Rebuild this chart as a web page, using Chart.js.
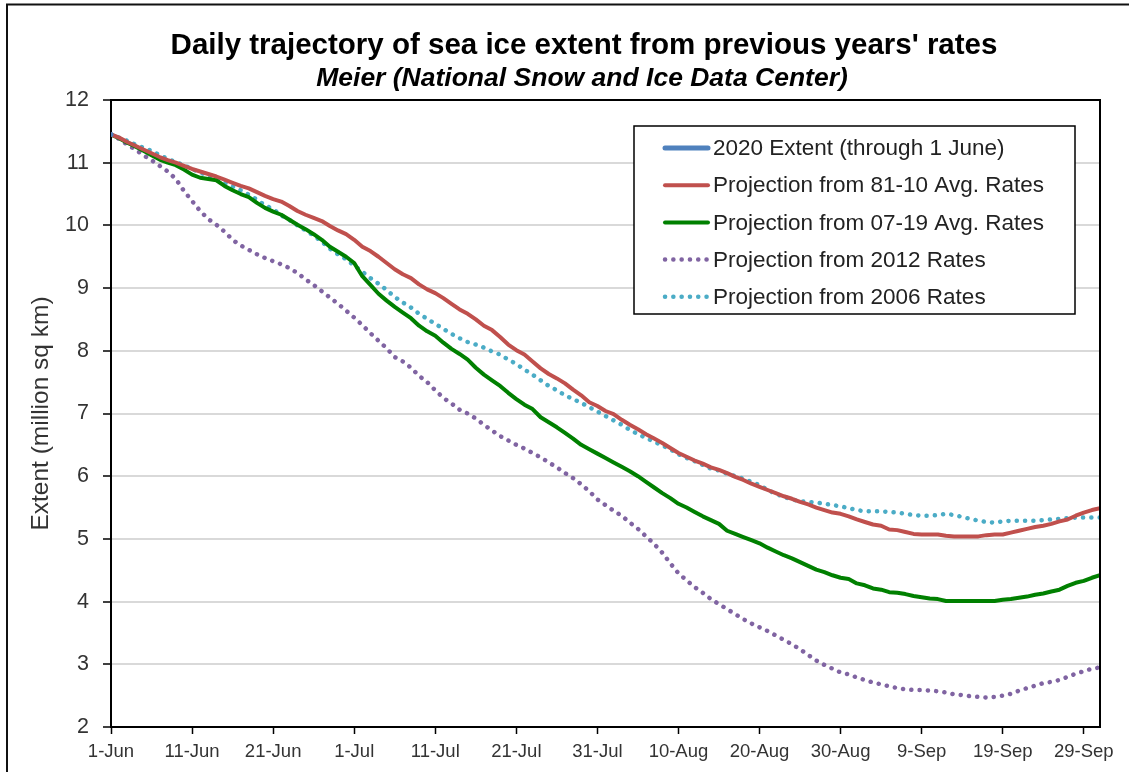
<!DOCTYPE html>
<html>
<head>
<meta charset="utf-8">
<script src="https://cdn.jsdelivr.net/npm/chart.js@4.4.1/dist/chart.umd.min.js"></script>
<style>
  html, body { margin: 0; padding: 0; background: #ffffff; }
  #wrap { position: relative; width: 1129px; height: 772px; }
</style>
</head>
<body>
<div id="wrap"><canvas id="c"></canvas></div>
<script>
// ---- DATA ----
const chartTitle = "Daily trajectory of sea ice extent from previous years' rates";
const chartSubtitle = "Meier (National Snow and Ice Data Center)";
const yAxisTitle = "Extent (million sq km)";

// day index since 1 June (1-Jun = 0 ... 1-Oct = 122)
const days = Array.from({length: 123}, (_, i) => i);
const tickDays = [0, 10, 20, 30, 40, 50, 60, 70, 80, 90, 100, 110, 120];
const tickLabels = ["1-Jun","11-Jun","21-Jun","1-Jul","11-Jul","21-Jul","31-Jul","10-Aug","20-Aug","30-Aug","9-Sep","19-Sep","29-Sep"];

const extent2020 = [11.45];

const proj8110 = [
 11.45,11.40,11.33,11.27,11.21,11.15,11.09,11.04,11.00,10.95,
 10.90,10.86,10.82,10.78,10.73,10.68,10.63,10.59,10.53,10.47,
 10.42,10.38,10.31,10.23,10.17,10.12,10.07,9.99,9.92,9.86,
 9.77,9.66,9.59,9.50,9.40,9.30,9.22,9.16,9.06,8.98,
 8.92,8.84,8.75,8.66,8.59,8.50,8.40,8.33,8.22,8.10,
 8.01,7.94,7.83,7.72,7.63,7.56,7.48,7.38,7.29,7.18,
 7.12,7.04,6.99,6.90,6.82,6.75,6.67,6.60,6.53,6.45,
 6.37,6.31,6.25,6.20,6.14,6.10,6.05,5.99,5.94,5.88,
 5.83,5.78,5.73,5.68,5.64,5.59,5.55,5.50,5.46,5.42,
 5.40,5.36,5.31,5.27,5.23,5.21,5.15,5.14,5.11,5.08,
 5.07,5.07,5.07,5.05,5.04,5.04,5.04,5.04,5.06,5.07,
 5.07,5.10,5.13,5.16,5.19,5.21,5.24,5.28,5.31,5.37,
 5.42,5.46,5.49
];

const proj0719 = [
 11.45,11.39,11.32,11.26,11.19,11.12,11.05,11.00,10.96,10.89,
 10.81,10.76,10.74,10.72,10.63,10.56,10.50,10.45,10.36,10.28,
 10.22,10.17,10.09,10.01,9.94,9.86,9.77,9.66,9.58,9.50,
 9.40,9.19,9.05,8.91,8.80,8.70,8.61,8.52,8.40,8.31,
 8.24,8.13,8.03,7.95,7.86,7.73,7.62,7.53,7.44,7.33,
 7.23,7.14,7.07,6.94,6.86,6.78,6.69,6.60,6.50,6.43,
 6.36,6.29,6.22,6.15,6.08,6.00,5.91,5.82,5.73,5.65,
 5.56,5.50,5.43,5.36,5.30,5.24,5.13,5.08,5.03,4.98,
 4.93,4.86,4.80,4.74,4.69,4.63,4.57,4.51,4.47,4.42,
 4.38,4.36,4.29,4.26,4.21,4.19,4.15,4.14,4.12,4.09,
 4.07,4.05,4.04,4.01,4.01,4.01,4.01,4.01,4.01,4.01,
 4.03,4.04,4.06,4.08,4.11,4.13,4.16,4.19,4.25,4.30,
 4.33,4.38,4.42
];

const proj2012 = [
 11.45,11.38,11.29,11.21,11.12,11.04,10.95,10.86,10.74,10.55,
 10.39,10.23,10.10,10.01,9.90,9.77,9.68,9.61,9.54,9.48,
 9.43,9.38,9.32,9.24,9.14,9.05,8.95,8.85,8.75,8.64,
 8.53,8.41,8.28,8.16,8.04,7.90,7.83,7.73,7.60,7.50,
 7.37,7.25,7.16,7.06,7.00,6.92,6.82,6.73,6.64,6.57,
 6.50,6.44,6.37,6.30,6.22,6.14,6.05,5.97,5.87,5.76,
 5.63,5.54,5.45,5.37,5.26,5.16,5.04,4.92,4.78,4.61,
 4.45,4.34,4.23,4.14,4.04,3.96,3.88,3.80,3.72,3.65,
 3.59,3.53,3.46,3.39,3.32,3.24,3.15,3.06,2.99,2.93,
 2.87,2.84,2.79,2.75,2.71,2.68,2.65,2.62,2.60,2.59,
 2.59,2.58,2.57,2.55,2.52,2.51,2.49,2.48,2.47,2.48,
 2.50,2.53,2.58,2.62,2.66,2.70,2.72,2.75,2.80,2.85,
 2.89,2.93,2.95
];

const proj2006 = [
 11.45,11.40,11.35,11.29,11.24,11.19,11.12,11.06,11.01,10.96,
 10.90,10.84,10.80,10.74,10.68,10.62,10.56,10.49,10.41,10.32,
 10.26,10.16,10.09,10.00,9.92,9.84,9.74,9.63,9.54,9.46,
 9.36,9.26,9.16,9.07,8.97,8.86,8.77,8.69,8.59,8.51,
 8.43,8.35,8.27,8.20,8.14,8.10,8.05,7.99,7.94,7.86,
 7.79,7.70,7.62,7.53,7.44,7.37,7.29,7.23,7.17,7.10,
 7.03,6.96,6.89,6.82,6.74,6.67,6.61,6.55,6.49,6.43,
 6.35,6.29,6.24,6.18,6.12,6.09,6.04,6.00,5.96,5.91,
 5.86,5.78,5.72,5.67,5.63,5.60,5.59,5.58,5.56,5.54,
 5.52,5.49,5.46,5.44,5.44,5.44,5.43,5.42,5.40,5.38,
 5.37,5.37,5.38,5.40,5.38,5.35,5.32,5.29,5.27,5.26,
 5.28,5.29,5.29,5.29,5.29,5.30,5.31,5.32,5.33,5.34,
 5.34,5.34,5.34
];

const seriesNames = [
  "2020 Extent (through 1 June)",
  "Projection from 81-10 Avg. Rates",
  "Projection from 07-19 Avg. Rates",
  "Projection from 2012 Rates",
  "Projection from 2006 Rates"
];

// ---- CHART ----
const toXY = arr => arr.map((v, i) => ({x: days[i], y: v}));
const FONT = "'Liberation Sans', Arial, Helvetica, sans-serif";

const dotDash = [0.1, 8.2];

const datasets = [
  { label: seriesNames[0], data: toXY(extent2020), borderColor: '#4F81BD', borderWidth: 5, borderCapStyle: 'round' },
  { label: seriesNames[1], data: toXY(proj8110), borderColor: '#C0504D', borderWidth: 4 },
  { label: seriesNames[2], data: toXY(proj0719), borderColor: '#008000', borderWidth: 4 },
  { label: seriesNames[3], data: toXY(proj2012), borderColor: '#8064A2', borderWidth: 4.5, borderDash: dotDash, borderCapStyle: 'round' },
  { label: seriesNames[4], data: toXY(proj2006), borderColor: '#4BACC6', borderWidth: 4.5, borderDash: dotDash, borderCapStyle: 'round' }
];
datasets.forEach(d => { d.pointRadius = 0; d.pointHoverRadius = 0; d.tension = 0; d.fill = false; d.borderJoinStyle = 'round'; });

const decor = {
  id: 'decor',
  beforeDraw(chart) {
    const ctx = chart.ctx;
    ctx.save();
    ctx.fillStyle = '#fff';
    ctx.fillRect(0, 0, chart.width, chart.height);
    ctx.restore();
  },
  afterDraw(chart) {
    const ctx = chart.ctx;
    const a = chart.chartArea;
    ctx.save();
    // outer frame
    ctx.strokeStyle = '#111';
    ctx.lineWidth = 2;
    ctx.strokeRect(7, 4.5, 1200, 900);
    // plot frame (top and right)
    ctx.lineWidth = 2;
    ctx.strokeStyle = '#000';
    ctx.beginPath();
    ctx.moveTo(a.left, a.top);
    ctx.lineTo(a.right, a.top);
    ctx.lineTo(a.right, a.bottom);
    ctx.stroke();
    // titles
    ctx.fillStyle = '#000';
    ctx.textAlign = 'center';
    ctx.textBaseline = 'middle';
    ctx.font = "bold 29.5px " + FONT;
    ctx.fillText(chartTitle, 584, 46);
    ctx.font = "italic bold 26.5px " + FONT;
    ctx.fillText(chartSubtitle, 582, 79);
    // legend
    const bx = 634, by = 126, bw = 441, bh = 188;
    ctx.fillStyle = '#fff';
    ctx.fillRect(bx, by, bw, bh);
    ctx.strokeStyle = '#000';
    ctx.lineWidth = 1.5;
    ctx.strokeRect(bx, by, bw, bh);
    ctx.font = "22.5px " + FONT;
    ctx.textAlign = 'left';
    chart.data.datasets.forEach((ds, i) => {
      const y = 148 + i * 37.2;
      ctx.save();
      ctx.strokeStyle = ds.borderColor;
      ctx.lineWidth = ds.borderWidth;
      ctx.lineCap = 'round';
      ctx.setLineDash(ds.borderDash || []);
      ctx.beginPath();
      ctx.moveTo(665, y);
      ctx.lineTo(708, y);
      ctx.stroke();
      ctx.restore();
      ctx.fillStyle = '#222';
      ctx.fillText(ds.label, 713, y + 1);
    });
    ctx.restore();
  }
};

new Chart(document.getElementById('c'), {
  type: 'line',
  data: { datasets },
  plugins: [decor],
  options: {
    responsive: true,
    maintainAspectRatio: false,
    animation: false,
    events: [],
    layout: { padding: { top: 100, right: 29, bottom: 5, left: 0 } },
    plugins: { legend: { display: false }, tooltip: { enabled: false }, title: { display: false } },
    scales: {
      x: {
        type: 'linear',
        min: 0,
        max: 122,
        afterBuildTicks: s => { s.ticks = tickDays.map(v => ({ value: v })); },
        afterFit: s => { s.height = 40; },
        ticks: {
          autoSkip: false,
          maxRotation: 0,
          padding: 7,
          color: '#333',
          font: { family: FONT, size: 18.5 },
          callback: (v, i) => tickLabels[i]
        },
        grid: { drawOnChartArea: false, drawTicks: true, tickLength: 7, tickColor: '#000', tickWidth: 1.5 },
        border: { display: true, color: '#000', width: 2 }
      },
      y: {
        min: 2,
        max: 12,
        afterFit: s => { s.width = 111; },
        ticks: {
          stepSize: 1,
          padding: 14,
          color: '#333',
          font: { family: FONT, size: 21.5 }
        },
        grid: { color: '#d9d9d9', lineWidth: 2, drawTicks: true, tickLength: 8, tickColor: '#000', tickWidth: 1.5 },
        border: { display: true, color: '#000', width: 2 },
        title: {
          display: true,
          text: yAxisTitle,
          color: '#333',
          font: { family: FONT, size: 24.5 },
          padding: { top: 27, bottom: 0 }
        }
      }
    }
  }
});
</script>
</body>
</html>
